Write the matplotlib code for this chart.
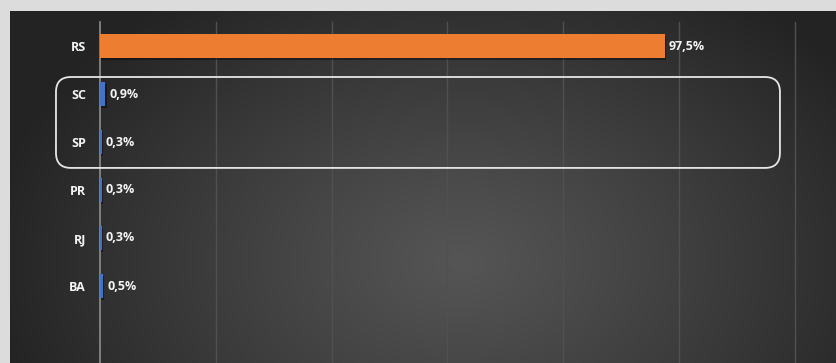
import numpy as np
import matplotlib
matplotlib.use("Agg")
import matplotlib.pyplot as plt
from matplotlib.patches import FancyBboxPatch
from matplotlib.transforms import IdentityTransform
import matplotlib.patheffects as pe

categories = ["RS", "SC", "SP", "PR", "RJ", "BA"]
values = [97.5, 0.9, 0.3, 0.3, 0.3, 0.5]
value_labels = ["97,5%", "0,9%", "0,3%", "0,3%", "0,3%", "0,5%"]
bar_colors = ["#ED7D31", "#4472C4", "#4472C4", "#4472C4", "#4472C4", "#4472C4"]
x_ticks = [0, 20, 40, 60, 80, 100, 120]

plt.rcParams['font.family'] = ['Open Sans', 'DejaVu Sans']

W, H = 837, 363
fig = plt.figure(figsize=(W / 100, H / 100), dpi=100)
fig.patch.set_facecolor("#dcdcdc")

# background panel with radial gradient
left_px, top_px = 10, 11
pw, ph = W - left_px, H - top_px
bg = fig.add_axes([left_px / W, 0, pw / W, ph / H])
yy, xx = np.mgrid[0:ph, 0:pw]
cx, cy = 450, 250
r = np.sqrt(((xx - cx) / 480.0) ** 2 + ((yy - cy) / 330.0) ** 2)
r = np.clip(r, 0, 1)
light, dark = 0x55 / 255, 0x23 / 255
g = light - (light - dark) * r ** 1.1
img = np.dstack([g, g, g])
bg.imshow(img, aspect="auto", extent=[0, pw, ph, 0], interpolation="bilinear")
bg.set_axis_off()
bg.set_xlim(0, pw)
bg.set_ylim(ph, 0)

# main axes
ax_left, ax_right, ax_top = 100, 795, 22
px_per_row = 48.0
ax = fig.add_axes([ax_left / W, 0, (ax_right - ax_left) / W, (H - ax_top) / H])
ax.set_facecolor("none")
ax.set_xlim(0, 120)
ax.set_ylim(-0.5 + (H - ax_top) / px_per_row, -0.5)
for s in ax.spines.values():
    s.set_visible(False)

for t in x_ticks[1:]:
    ax.axvline(t, color="#505050", lw=1.0, clip_on=False, zorder=1)
ax.axvline(0, color="#8e8e8e", lw=1.2, clip_on=False, zorder=2)

ypos = np.arange(len(categories))
bars = ax.barh(ypos, values, height=0.5, color=bar_colors, zorder=3,
               edgecolor="none")
for b in bars:
    b.set_path_effects([pe.SimplePatchShadow(offset=(1, -1.2), shadow_rgbFace="black", alpha=0.4),
                        pe.Normal()])

for y, v, lab in zip(ypos, values, value_labels):
    ax.annotate(lab, (v, y), xytext=(3.0, 0), textcoords="offset points",
                ha="left", va="center", color="#f4f4f4", fontsize=9,
                fontweight="bold", zorder=5)

ax.set_xticks([])
ax.set_yticks(ypos)
ax.set_yticklabels(categories, color="#f4f4f4", fontsize=9, fontweight="bold")
ax.tick_params(axis="y", length=0, pad=10)

# rounded highlight box around SC and SP
(x0, y0) = ax.transData.transform((-7.6, 2.54))
(x1, y1) = ax.transData.transform((117.4, 0.646))
box = FancyBboxPatch((x0, y0), x1 - x0, y1 - y0,
                     boxstyle="round,pad=0,rounding_size=15",
                     transform=IdentityTransform(), facecolor="none",
                     edgecolor="#e6e6e6", lw=1.3, zorder=6)
fig.add_artist(box)

fig.savefig("out.png", dpi=100, facecolor=fig.get_facecolor())
